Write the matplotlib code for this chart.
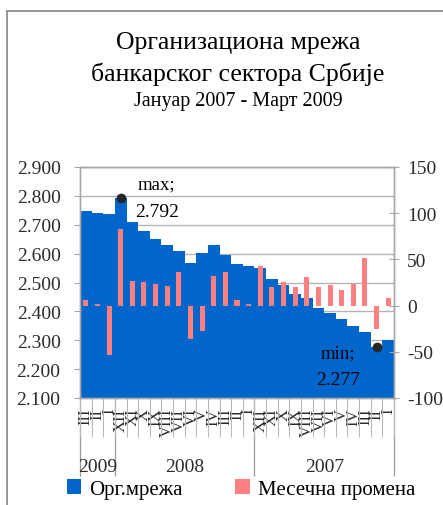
import matplotlib
matplotlib.use('Agg')
import matplotlib.pyplot as plt
import numpy as np
from matplotlib.patches import Rectangle, Patch

# ---------------- data ----------------
years = ['2009', '2008', '2007']
year_counts = [3, 12, 12]
months = ['III', 'II', 'I', 'XII', 'XI', 'X', 'IX', 'VIII', 'VII', 'VI', 'V', 'IV',
          'III', 'II', 'I', 'XII', 'XI', 'X', 'IX', 'VIII', 'VII', 'VI', 'V', 'IV',
          'III', 'II', 'I']
network = [2748, 2742, 2737, 2792, 2711, 2680, 2651, 2630, 2609, 2568, 2602, 2630,
           2596, 2564, 2556, 2550, 2512, 2491, 2460, 2445, 2411, 2394, 2373, 2349,
           2329, 2277, 2301]
monthly_change = [6, 2, -53, 83, 27, 26, 23, 21, 36, -36, -28, 32,
                  36, 6, 2, 43, 20, 26, 20, 31, 20, 22, 17, 23,
                  52, -25, 8]
left_ticks = [2100, 2200, 2300, 2400, 2500, 2600, 2700, 2800, 2900]
right_ticks = [-100, -50, 0, 50, 100, 150]
series_names = ['Орг.мрежа', 'Месечна промена']
title_lines = ['Организациона мрежа', 'банкарског сектора Србије', 'Јануар 2007 - Март 2009']

# ---------------- style ----------------
plt.rcParams['font.family'] = ['Liberation Serif', 'DejaVu Serif']
BLUE = '#0066cc'
PINK = '#ff8080'
GRID = '#b4b4b4'
AXC = '#a6a6a6'
TXT = '#2b2b2b'

W, H = 443, 506
fig = plt.figure(figsize=(W / 100, H / 100), dpi=100)
ax = fig.add_axes([80 / W, 1 - 399 / H, (394 - 80) / W, (399 - 168) / H])

x = np.arange(len(months))
ax.bar(x, network, width=1.0, color=BLUE, zorder=2, linewidth=0)
ax.set_xlim(-0.5, len(months) - 0.5)
ax.set_ylim(left_ticks[0], left_ticks[-1])
ax.set_yticks(left_ticks)
ax.set_yticklabels([f'{v:,}'.replace(',', '.') for v in left_ticks])
ax.yaxis.grid(True, color=GRID, lw=1)
ax.set_axisbelow(True)
ax.tick_params(axis='y', direction='out', length=4, color=AXC, labelsize=14,
               labelcolor=TXT, pad=10)

# month labels + separators
ax.set_xticks(x)
ax.set_xticklabels(months, rotation=90, fontsize=12, color=TXT)
ax.tick_params(axis='x', which='major', length=0, pad=7)
ax.set_xticks(np.arange(len(months) + 1) - 0.5, minor=True)
ax.tick_params(axis='x', which='minor', length=28, width=0.8, color='#b8b8b8')

for s in ax.spines.values():
    s.set_color(AXC)
    s.set_linewidth(1.0)

# year level
bounds = np.concatenate([[0], np.cumsum(year_counts)]) - 0.5
centers = (bounds[:-1] + bounds[1:]) / 2
sec = ax.secondary_xaxis('bottom')
sec.set_xticks(bounds)
sec.set_xticklabels([''] * len(bounds))
sec.set_xticks(centers, labels=years, minor=True)
sec.tick_params(axis='x', which='major', length=56, width=0.9, color='#9a9a9a')
sec.tick_params(axis='x', which='minor', length=0, pad=43, labelsize=14, labelcolor=TXT)
sec.spines['bottom'].set_visible(False)

# secondary y axis
ax2 = ax.twinx()
ax2.bar(x, monthly_change, width=0.43, color=PINK, zorder=3, linewidth=0)
ax2.set_ylim(right_ticks[0], right_ticks[-1])
ax2.set_yticks(right_ticks)
ax2.set_yticklabels([str(v) for v in right_ticks])
ax2.tick_params(axis='y', direction='inout', length=7, color=AXC, labelsize=14,
                labelcolor=TXT, pad=6)
for s in ax2.spines.values():
    s.set_color(AXC)
    s.set_linewidth(1.0)

# max / min markers
imax = int(np.argmax(network))
imin = int(np.argmin(network))
fmt = lambda v: f'{v:,}'.replace(',', '.')
ax2.plot([imax, imin], [network[imax], network[imin]], 'o', color='#262626', ms=6,
         transform=ax.transData, zorder=6, clip_on=False)
ax2.annotate('max;', xy=(imax, network[imax]), xycoords=ax.transData,
             xytext=(26, 10), textcoords='offset points', ha='center', va='center',
             fontsize=13.5, color='black')
ax2.annotate(fmt(network[imax]), xy=(imax, network[imax]), xycoords=ax.transData,
             xytext=(26, -9.5), textcoords='offset points', ha='center', va='center',
             fontsize=14, color='black')
ax2.annotate('min;', xy=(imin, network[imin]), xycoords=ax.transData,
             xytext=(-28, -4), textcoords='offset points', ha='center', va='center',
             fontsize=13.5, color='black')
ax2.annotate(fmt(network[imin]), xy=(imin, network[imin]), xycoords=ax.transData,
             xytext=(-28, -23.5), textcoords='offset points', ha='center', va='center',
             fontsize=14, color='black')

# titles
cx = 238 / W
fig.text(cx, 1 - 49 / H, title_lines[0], ha='center', va='baseline', fontsize=18.5)
fig.text(cx, 1 - 81 / H, title_lines[1], ha='center', va='baseline', fontsize=18.5)
fig.text(cx, 1 - 106 / H, title_lines[2], ha='center', va='baseline', fontsize=14.5)

# legend
handles = [Patch(facecolor=BLUE), Patch(facecolor=PINK)]
fig.legend(handles, series_names, loc='center', bbox_to_anchor=(241 / W, 1 - 490 / H),
           ncol=2, frameon=False, fontsize=15, handlelength=0.7, handleheight=0.7,
           handletextpad=0.4, columnspacing=2.5, borderpad=0)

# outer chart border
fig.add_artist(Rectangle((7 / W, -0.1), 1.2, 1.1 - 12 / H, transform=fig.transFigure,
                         fill=False, ec='#8c8c8c', lw=1.3))

fig.savefig('out.png', dpi=100)
